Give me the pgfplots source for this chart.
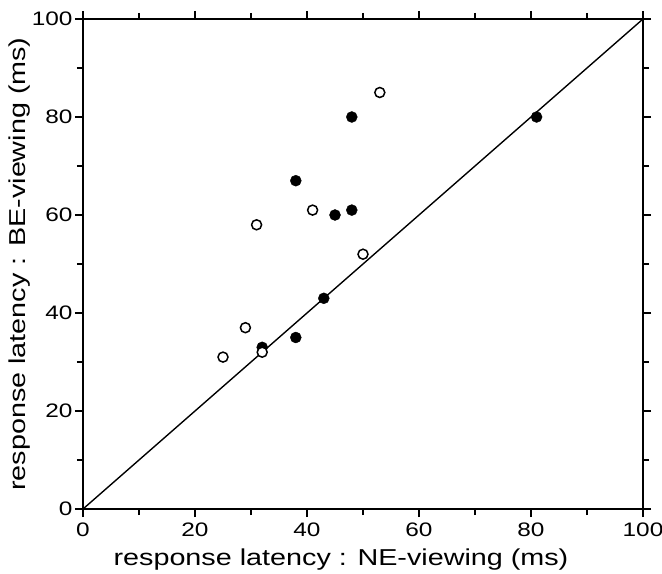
\documentclass[border=0pt]{standalone}
\usepackage{fontspec}
\setmainfont{Liberation Sans}[FakeStretch=1.25]
\usepackage{pgfplots}
\pgfplotsset{compat=1.18}
\begin{document}
\begin{tikzpicture}
\begin{axis}[
  scale only axis,
  width=560bp, height=490bp,
  xmin=0, xmax=100, ymin=0, ymax=100,
  xtick={0,20,...,100}, ytick={0,20,...,100},
  minor xtick={10,30,50,70,90}, minor ytick={10,30,50,70,90},
  tick align=outside,
  major tick length=8bp, minor tick length=6bp,
  tick style={black, line width=1.3bp},
  axis line style={line width=1.7bp},
  /pgf/number format/assume math mode=true,
  tick label style={font=\fontsize{19.5bp}{21bp}\selectfont},
  xticklabel style={yshift=-2bp},
  yticklabel style={xshift=1bp},
  label style={font=\fontsize{23bp}{26bp}\selectfont},
  xlabel={response latency : NE-viewing (ms)},
  ylabel={response latency : BE-viewing (ms)},
  xlabel style={yshift=-6bp, xshift=-22bp},
  ylabel style={yshift=-5bp},
  clip=false,
]
\addplot[black, line width=1.4bp] coordinates {(0,0) (100,100)};
% filled
\addplot[only marks, mark=*, mark size=5.5bp, mark options={fill=black, draw=black}] coordinates {
(48,80) (81,80) (38,67) (45,60) (48,61) (43,43) (32,33) (38,35)
};
% open
\addplot[only marks, mark=*, mark size=5bp, mark options={fill=white, draw=black, line width=1.5bp}] coordinates {
(53,85) (41,61) (31,58) (50,52) (29,37) (32,32) (25,31)
};
\end{axis}
\pgfresetboundingbox
\useasboundingbox ([shift={(-83bp,-65bp)}]current axis.south west) rectangle ([shift={(19bp,19bp)}]current axis.north east);
\end{tikzpicture}
\end{document}
